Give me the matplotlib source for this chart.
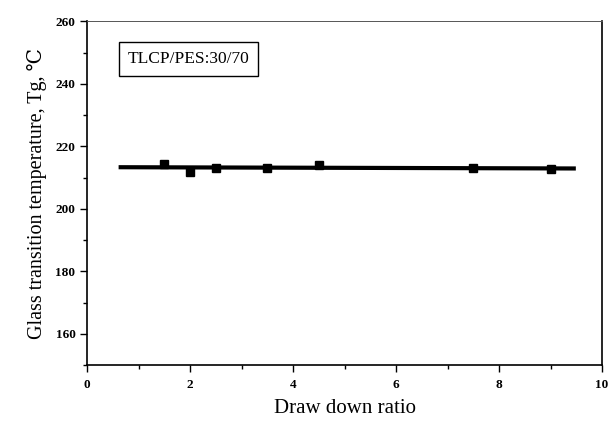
import matplotlib.pyplot as plt
from matplotlib.ticker import MultipleLocator

# measured points
ratio = [1.5, 2.0, 2.5, 3.5, 4.5, 7.5, 9.0]
tg = [214.3, 211.8, 213.0, 213.0, 214.0, 213.0, 212.8]

# fitted line end points
fit_x = [0.65, 9.45]
fit_y = [213.3, 212.9]

plt.rcParams['font.family'] = ['Liberation Serif', 'DejaVu Serif']

fig = plt.figure(figsize=(6.1, 4.25), dpi=100)
ax = fig.add_axes([0.143, 0.141, 0.844, 0.809])

ax.plot(fit_x, fit_y, color='black', linewidth=3)
ax.plot(ratio, tg, 's', color='black', markersize=5.5)

ax.set_xlim(0, 10)
ax.set_ylim(150, 260)
ax.xaxis.set_major_locator(MultipleLocator(2))
ax.xaxis.set_minor_locator(MultipleLocator(1))
ax.yaxis.set_major_locator(MultipleLocator(20))
ax.yaxis.set_minor_locator(MultipleLocator(10))
ax.set_yticks([160, 180, 200, 220, 240, 260])
ax.tick_params(which='both', direction='out', labelsize=9.5, width=1)
ax.tick_params(which='major', length=5)
ax.tick_params(which='minor', length=3)
ax.tick_params(axis='x', pad=5)
for lab in ax.get_xticklabels() + ax.get_yticklabels():
    lab.set_fontweight('bold')

ax.spines['top'].set_linewidth(0.7)
ax.spines['top'].set_color('#555555')
for s in ['left', 'bottom', 'right']:
    ax.spines[s].set_linewidth(1.2)

ax.set_xlabel('Draw down ratio', fontsize=15, labelpad=6)
ax.set_ylabel('Glass transition temperature, Tg, \u2103', fontsize=14.5, labelpad=6)

ax.text(0.078, 0.89, 'TLCP/PES:30/70', transform=ax.transAxes, fontsize=12.5,
        va='center', ha='left',
        bbox=dict(boxstyle='square,pad=0.5', facecolor='white', edgecolor='black', linewidth=1))

plt.savefig('out.png')
